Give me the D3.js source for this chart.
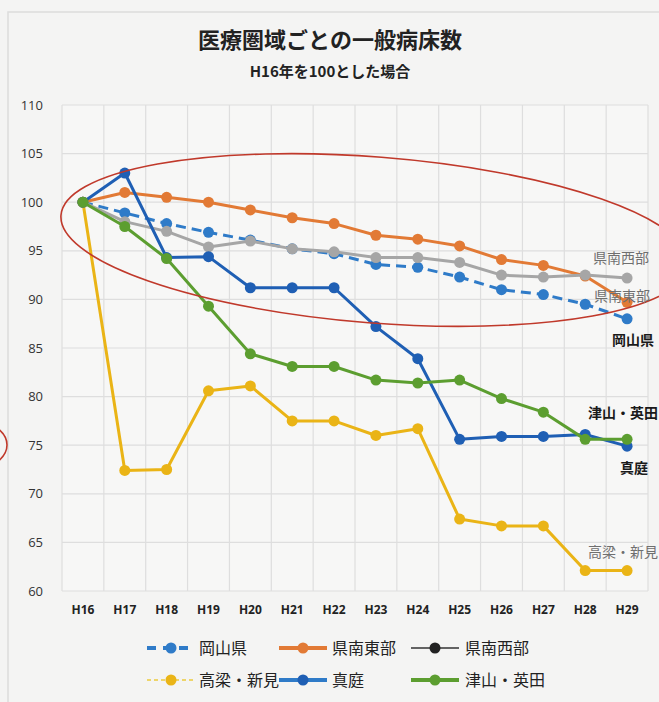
<!DOCTYPE html>
<html><head><meta charset="utf-8">
<script src="https://cdn.jsdelivr.net/npm/d3@7"></script>
<style>
html,body{margin:0;padding:0;background:#f4f4f3;}
svg{display:block;font-family:"Noto Sans CJK JP","Noto Sans",sans-serif;}
</style></head><body>
<svg id="c" width="659" height="702"></svg>
<script>
const categories = ["H16","H17","H18","H19","H20","H21","H22","H23","H24","H25","H26","H27","H28","H29"];
const yTicks = [60,65,70,75,80,85,90,95,100,105,110];
const seriesNames = ["岡山県","県南東部","県南西部","高梁・新見","真庭","津山・英田"];
const okayama   = [100, 98.9, 97.8, 96.9, 96.1, 95.2, 94.7, 93.6, 93.3, 92.3, 91.0, 90.5, 89.5, 88.0];
const kennanTobu= [100, 101.0, 100.5, 100.0, 99.2, 98.4, 97.8, 96.6, 96.2, 95.5, 94.1, 93.5, 92.4, 89.7];
const kennanSeibu=[100, 98.0, 97.0, 95.4, 96.0, 95.2, 94.9, 94.3, 94.3, 93.8, 92.5, 92.3, 92.5, 92.2];
const takahashi = [100, 72.4, 72.5, 80.6, 81.1, 77.5, 77.5, 76.0, 76.7, 67.4, 66.7, 66.7, 62.1, 62.1];
const maniwa    = [100, 103.0, 94.3, 94.4, 91.2, 91.2, 91.2, 87.2, 83.9, 75.6, 75.9, 75.9, 76.1, 74.9];
const tsuyama   = [100, 97.5, 94.2, 89.3, 84.4, 83.1, 83.1, 81.7, 81.4, 81.7, 79.8, 78.4, 75.6, 75.6];

const seriesData = [okayama, kennanTobu, kennanSeibu, takahashi, maniwa, tsuyama];
const colors = ["#2f7bc8","#e27a35","#a6a6a6","#eab416","#1f5fb4","#5c9e30"];
const dashes = ["10,6",null,null,null,null,null];
const endLabels = [
  {name:"県南西部", x:593, y:258, color:"#6f6f6f", weight:"normal"},
  {name:"県南東部", x:594, y:296, color:"#6f6f6f", weight:"normal"},
  {name:"岡山県",   x:612, y:340, color:"#1a1a1a", weight:"bold"},
  {name:"津山・英田", x:588, y:413, color:"#1a1a1a", weight:"bold"},
  {name:"真庭",     x:620, y:468, color:"#1a1a1a", weight:"bold"},
  {name:"高梁・新見", x:588, y:552, color:"#6f6f6f", weight:"normal"}
];

const svg = d3.select("#c");
const W = 659, H = 702;
const plot = {left:62, right:648, top:105, bottom:591};

// faint scan frame
svg.append("rect").attr("x",8).attr("y",12).attr("width",W+20).attr("height",H+20)
  .attr("fill","none").attr("stroke","#dcdcdc").attr("stroke-width",1.5);

const x = d3.scaleBand().domain(categories).range([plot.left, plot.right]).padding(0);
const y = d3.scaleLinear().domain([60,110]).range([plot.bottom, plot.top]);
const cx = d => x(d) + x.bandwidth()/2;

// plot bg
svg.append("rect").attr("x",plot.left).attr("y",plot.top)
  .attr("width",plot.right-plot.left).attr("height",plot.bottom-plot.top).attr("fill","#f7f7f6");

// grid
const grid = svg.append("g");
grid.selectAll("line.h").data(yTicks).join("line")
  .attr("x1",plot.left).attr("x2",plot.right)
  .attr("y1",d=>y(d)).attr("y2",d=>y(d))
  .attr("stroke","#dedede").attr("stroke-width",1.2);
grid.selectAll("line.v").data(categories.concat(["end"])).join("line")
  .attr("x1",(d,i)=>plot.left + i*x.bandwidth()).attr("x2",(d,i)=>plot.left + i*x.bandwidth())
  .attr("y1",plot.top).attr("y2",plot.bottom)
  .attr("stroke","#dedede").attr("stroke-width",1.2);

// y axis labels
const yAxis = d3.axisLeft(y).tickValues(yTicks).tickSize(0).tickPadding(0);
const ya = svg.append("g").attr("transform",`translate(${plot.left-19},0)`).call(yAxis);
ya.select(".domain").remove();
ya.selectAll("text").attr("font-size",13).attr("fill","#333")
  .attr("font-family","'Open Sans','DejaVu Sans',sans-serif");

// x axis labels
const xAxis = d3.axisBottom(x).tickSize(0).tickPadding(0);
const xa = svg.append("g").attr("transform",`translate(0,${plot.bottom+14})`).call(xAxis);
xa.select(".domain").remove();
xa.selectAll("text").attr("font-size",12).attr("font-weight","bold").attr("fill","#222")
  .attr("font-family","'Open Sans','DejaVu Sans',sans-serif");

// lines
const line = d3.line().x((d,i)=>cx(categories[i])).y(d=>y(d));
seriesData.forEach((data,si)=>{
  const g = svg.append("g");
  g.append("path").datum(data).attr("d",line).attr("fill","none")
    .attr("stroke",colors[si]).attr("stroke-width",3)
    .attr("stroke-linejoin","round")
    .attr("stroke-dasharray",dashes[si]);
  g.selectAll("circle").data(data).join("circle")
    .attr("cx",(d,i)=>cx(categories[i])).attr("cy",d=>y(d)).attr("r",5.5)
    .attr("fill",colors[si]);
});

// red annotation ellipses
svg.append("ellipse").attr("cx",375).attr("cy",240).attr("rx",315).attr("ry",83)
  .attr("transform","rotate(4.5,375,240)")
  .attr("fill","none").attr("stroke","#c0392b").attr("stroke-width",1.6);
svg.append("ellipse").attr("cx",-50).attr("cy",445).attr("rx",57).attr("ry",30)
  .attr("fill","none").attr("stroke","#c0392b").attr("stroke-width",1.6);

// end labels
svg.selectAll("text.end").data(endLabels).join("text")
  .attr("x",d=>d.x).attr("y",d=>d.y).attr("dy","0.35em")
  .attr("font-size",14).attr("font-weight",d=>d.weight).attr("fill",d=>d.color)
  .text(d=>d.name);

// titles
svg.append("text").attr("x",330).attr("y",48).attr("text-anchor","middle")
  .attr("font-size",22).attr("font-weight","bold").attr("fill","#222")
  .text("医療圏域ごとの一般病床数");
svg.append("text").attr("x",330).attr("y",77).attr("text-anchor","middle")
  .attr("font-size",15).attr("font-weight","bold").attr("fill","#222")
  .text("H16年を100とした場合");

// legend
const legendItems = [
  {si:0, sx:147, tx:199, y:648},
  {si:1, sx:279, tx:332, y:648},
  {si:2, sx:411, tx:465, y:648},
  {si:3, sx:147, tx:199, y:680},
  {si:4, sx:279, tx:332, y:680},
  {si:5, sx:411, tx:465, y:680}
];
const legendLineColor = ["#2f7bc8","#e27a35","#333333","#eed56a","#2f7bc8","#5c9e30"];
const legendLineW = [4,4,1.5,2,4,4];
const legendDash = ["9,7",null,null,"4,3",null,null];
const lg = svg.append("g");
legendItems.forEach(it=>{
  lg.append("line").attr("x1",it.sx).attr("x2",it.sx+48).attr("y1",it.y).attr("y2",it.y)
    .attr("stroke",legendLineColor[it.si]).attr("stroke-width",legendLineW[it.si])
    .attr("stroke-dasharray",legendDash[it.si]);
  lg.append("circle").attr("cx",it.sx+24).attr("cy",it.y).attr("r",5.5)
    .attr("fill", it.si===2 ? "#222" : colors[it.si]);
  lg.append("text").attr("x",it.tx).attr("y",it.y).attr("dy","0.36em")
    .attr("font-size",16).attr("fill","#222").text(seriesNames[it.si]);
});
</script></body></html>
